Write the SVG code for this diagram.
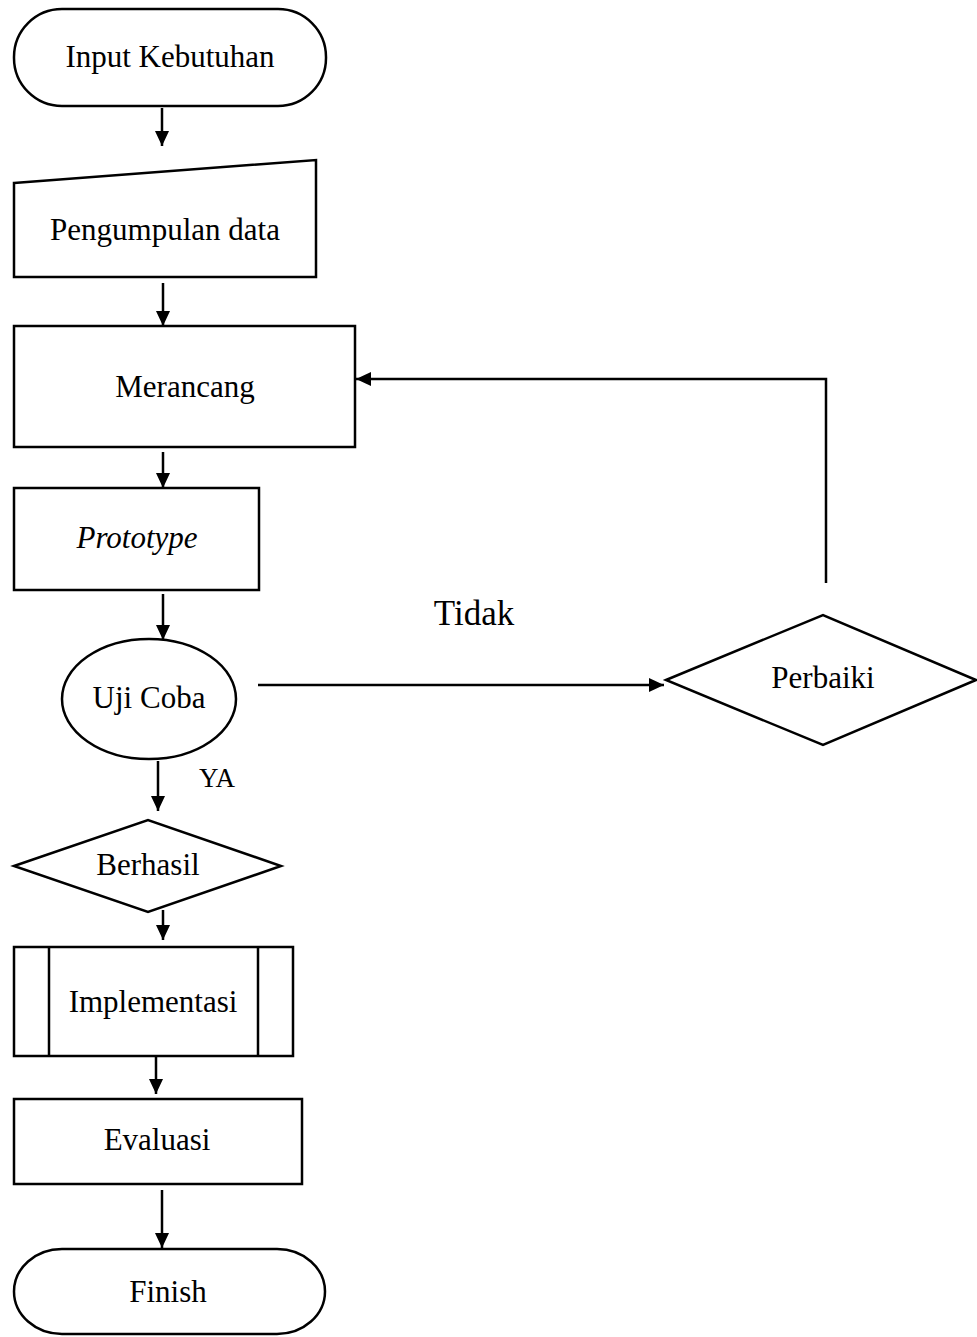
<svg xmlns="http://www.w3.org/2000/svg" width="977" height="1337" viewBox="0 0 977 1337">
<style>
.s{fill:#fff;stroke:#000;stroke-width:2.5}
.t{font-family:"Liberation Serif","Times New Roman",serif;font-size:31px;fill:#000;text-anchor:middle}
.c{fill:none;stroke:#000;stroke-width:2.5}
</style>
<defs>
<marker id="ah" markerWidth="15" markerHeight="14" refX="15" refY="7" orient="auto" markerUnits="userSpaceOnUse">
<path d="M0,0 L15,7 L0,14 Z" fill="#000"/>
</marker>
</defs>
<rect width="977" height="1337" fill="#fff"/>
<g id="connectors">
<line class="c" x1="162" y1="108" x2="162" y2="146" marker-end="url(#ah)"/>
<line class="c" x1="163" y1="283" x2="163" y2="326" marker-end="url(#ah)"/>
<line class="c" x1="163" y1="452" x2="163" y2="488" marker-end="url(#ah)"/>
<line class="c" x1="163" y1="594" x2="163" y2="640" marker-end="url(#ah)"/>
<line class="c" x1="158" y1="761" x2="158" y2="811" marker-end="url(#ah)"/>
<line class="c" x1="163" y1="910" x2="163" y2="940" marker-end="url(#ah)"/>
<line class="c" x1="156" y1="1057" x2="156" y2="1094" marker-end="url(#ah)"/>
<line class="c" x1="162" y1="1190" x2="162" y2="1248" marker-end="url(#ah)"/>
<line class="c" x1="258" y1="685" x2="664" y2="685" marker-end="url(#ah)"/>
<polyline class="c" points="826,583 826,379 356,379" marker-end="url(#ah)"/>
<text class="t" x="474" y="625" style="font-size:35px">Tidak</text>
<text class="t" x="217" y="787" style="font-size:27px">YA</text>
</g>
<g id="input-kebutuhan">
<rect class="s" x="14" y="9" width="312" height="97" rx="48" ry="48"/>
<text class="t" x="170" y="67">Input Kebutuhan</text>
</g>
<g id="pengumpulan-data">
<polygon class="s" points="14,183 316,160 316,277 14,277"/>
<text class="t" x="165" y="240">Pengumpulan data</text>
</g>
<g id="merancang">
<rect class="s" x="14" y="326" width="341" height="121"/>
<text class="t" x="185" y="397">Merancang</text>
</g>
<g id="prototype">
<rect class="s" x="14" y="488" width="245" height="102"/>
<text class="t" x="137" y="548" font-style="italic">Prototype</text>
</g>
<g id="uji-coba">
<ellipse class="s" cx="149" cy="699" rx="87" ry="60"/>
<text class="t" x="149" y="708">Uji Coba</text>
</g>
<g id="perbaiki">
<polygon class="s" points="666,680 823,615 976,680 823,745"/>
<text class="t" x="823" y="688">Perbaiki</text>
</g>
<g id="berhasil">
<polygon class="s" points="14,866 148,820 281,866 148,912"/>
<text class="t" x="148" y="875">Berhasil</text>
</g>
<g id="implementasi">
<rect class="s" x="14" y="947" width="279" height="109"/>
<line class="c" x1="49" y1="947" x2="49" y2="1056"/>
<line class="c" x1="258" y1="947" x2="258" y2="1056"/>
<text class="t" x="153" y="1012">Implementasi</text>
</g>
<g id="evaluasi">
<rect class="s" x="14" y="1099" width="288" height="85"/>
<text class="t" x="157" y="1150">Evaluasi</text>
</g>
<g id="finish">
<rect class="s" x="14" y="1249" width="311" height="85" rx="48" ry="48"/>
<text class="t" x="168" y="1302">Finish</text>
</g>
</svg>
